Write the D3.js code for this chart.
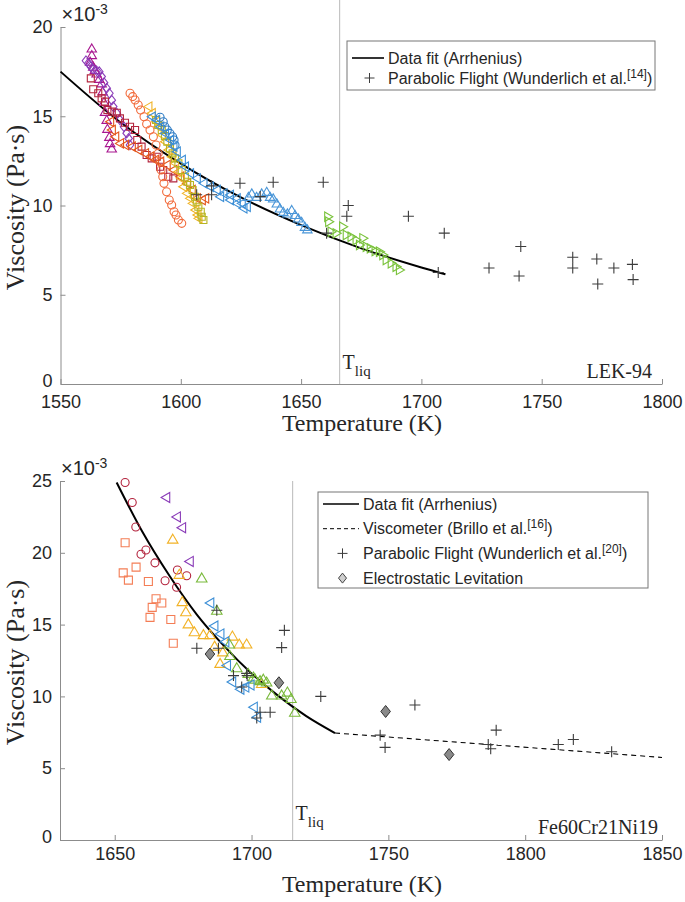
<!DOCTYPE html>
<html>
<head>
<meta charset="utf-8">
<script src="https://cdn.jsdelivr.net/npm/d3@7"></script>
<style>
  body { margin: 0; background: #fff; }
  svg text { font-family: "Liberation Sans", Arial, sans-serif; fill: #262626; }
  svg text.serif { font-family: "Liberation Serif", "Times New Roman", serif; }
</style>
</head>
<body>
<div id="chart"></div>
<script>
const width = 685, height = 902;

// ---------- LEK-94 (top panel) ----------
const lekTicksX = [1550, 1600, 1650, 1700, 1750, 1800];
const lekTicksY = [0, 5, 10, 15, 20];
const lekTliq = 1666;

const lekFit = [[1550,17.5],[1575,14.65],[1600,12.35],[1625,10.45],[1650,8.9],[1675,7.6],[1700,6.53],[1710,6.15]];

const lekFlight = [[1606.6,10.6],[1612.8,11.1],[1612.8,10.6],[1624.6,11.25],[1633,10.5],[1638.4,11.3],
  [1659.2,11.3],[1660.6,8.45],[1669.6,10.0],[1669,9.4],[1694.6,9.4],[1709.5,8.45],[1707,6.25],
  [1728.1,6.5],[1741.3,7.7],[1740.6,6.05],[1762.9,7.1],[1762.9,6.5],[1772.9,7.0],[1773.3,5.6],
  [1780,6.5],[1787.7,6.7],[1788,5.85]];

const lekMagenta = [[1563.0,18.8],[1563.0,18.43],[1562.3,18.06],[1563.6,17.78],[1564.3,17.6],[1565.0,17.4],
  [1566.1,17.1],[1567.1,16.85],[1567.5,16.4],[1568.1,15.8],[1568.5,15.25],[1569.2,14.8],[1569.5,14.3],
  [1570.3,13.85],[1570.6,13.5],[1571.3,13.2]];
const lekPurple = [[1560.6,18.11],[1561.6,17.97],[1562.6,17.78],[1563.6,17.63],[1565.0,17.55],[1566.1,17.5],
  [1567.1,17.22],[1568.1,16.88],[1569.2,16.57],[1570.3,16.29],[1571.3,15.9],[1571.9,15.54],[1573.4,15.17],
  [1574.7,14.8],[1576.4,14.41],[1577.5,14.05],[1578.3,13.76],[1578.9,13.39]];
const lekCrimson = [[1562.6,17.12],[1563.6,16.51],[1565.7,16.29],[1567.1,16.0],[1568.5,15.82],[1569.5,15.35],
  [1571.3,15.26],[1573.4,15.2],[1574.7,14.88],[1576.8,14.64],[1578.9,14.41],[1581.0,14.23],[1581.9,13.67],
  [1583.7,13.3],[1585.8,12.83],[1587.9,12.64],[1590.0,12.73],[1591.4,12.17],[1592.7,11.99],[1594.8,11.61],
  [1596.9,11.52]];
const lekVermilion = [[1570.6,14.69],[1571.3,14.23],[1572.7,13.85],[1574.7,13.48],[1576.8,13.39],[1579.6,13.3],
  [1582.3,13.11],[1585.1,12.92],[1587.2,12.73],[1589.3,12.55],[1591.4,12.45],[1594.1,12.27],[1596.9,11.99],
  [1599.7,11.61],[1602.5,11.24],[1604.5,10.87],[1606.6,10.4],[1608.7,10.31],[1610.1,10.4]];
const lekOrange = [[1578.9,16.29],[1580.0,16.1],[1581.0,15.91],[1582.3,15.63],[1583.3,15.35],[1584.7,14.97],
  [1585.8,14.57],[1587.2,14.23],[1588.6,13.85],[1589.7,13.39],[1590.6,12.92],[1591.4,12.45],[1591.8,11.99],
  [1592.5,11.61],[1593.0,11.24],[1594.1,10.77],[1595.2,10.31],[1596.2,10.03],[1597.2,9.65],[1598.0,9.47],
  [1599.0,9.19],[1600.4,9.0]];
const lekGold = [[1586.5,15.54],[1587.9,15.17],[1589.7,14.69],[1590.6,14.41],[1592.1,13.95],[1593.4,13.57],
  [1594.8,13.11],[1596.2,12.73],[1597.6,12.36],[1599.0,11.89],[1600.0,11.52],[1601.0,11.05],[1602.5,10.68],
  [1603.8,10.4],[1604.9,10.12],[1606.0,9.75],[1606.9,9.47],[1607.3,9.28]];
const lekOlive = [[1589.7,14.79],[1590.6,14.51],[1592.1,14.23],[1593.4,13.89],[1594.4,13.57],[1595.5,13.2],
  [1596.6,12.92],[1597.6,12.64],[1599.0,12.36],[1600.4,11.99],[1601.7,11.61],[1602.7,11.33],[1603.8,11.15],
  [1604.9,10.87],[1605.9,10.49],[1606.6,10.21],[1607.3,9.93],[1608.3,9.65],[1608.7,9.37],[1609.4,9.19]];
const lekBlueCircle = [[1591.4,14.94],[1592.7,14.69],[1593.4,14.41],[1594.4,14.23],[1595.5,14.04],
  [1596.6,13.85],[1597.2,13.67],[1597.6,13.39]];
const lekBlueLeft = [[1587.9,14.97],[1589.7,14.79],[1591.4,14.41],[1593.4,14.04],[1595.5,13.67],[1596.9,13.3],
  [1598.3,13.01],[1600.4,12.55],[1601.7,12.17],[1603.8,11.8],[1606.6,11.52],[1609.4,11.24],[1612.1,11.05],
  [1614.9,10.87],[1616.3,10.49],[1617.7,10.68],[1620.4,10.59],[1620.4,10.31],[1623.2,10.4],[1623.2,10.12],
  [1625.3,10.12],[1626.0,9.84],[1627.4,9.93]];
const lekBlueUp = [[1628.1,10.49],[1629.5,10.68],[1631.5,10.49],[1633.6,10.68],[1635.7,10.77],[1637.1,10.49],
  [1638.4,10.4],[1639.9,10.12],[1641.2,9.84],[1642.6,9.65],[1644.3,9.56],[1646.1,9.75],[1647.5,9.47],
  [1648.8,9.28],[1650.2,9.09],[1651.6,8.81],[1652.6,8.67]];
const lekGreen = [[1661.3,9.37],[1661.7,9.09],[1662.7,8.53],[1664.8,8.44],[1667.5,8.81],[1669.0,8.35],
  [1671.0,8.25],[1673.1,8.07],[1675.9,8.16],[1674.5,7.79],[1677.3,7.69],[1679.0,7.6],[1681.0,7.45],
  [1682.8,7.41],[1684.2,7.23],[1685.6,6.95],[1687.7,6.76],[1689.7,6.57],[1691.1,6.39]];

// ---------- Fe60Cr21Ni19 (bottom panel) ----------
const feTicksX = [1650, 1700, 1750, 1800, 1850];
const feTicksY = [0, 5, 10, 15, 20, 25];
const feTliq = 1715;

const feFit = [[1650.7,24.9],[1660,21.5],[1670,18.4],[1680,15.7],[1690,13.5],[1700,11.6],[1710,10.0],[1720,8.63],[1730.5,7.45]];
const feViscometer = [[1730.5,7.45],[1790,6.6],[1850,5.75]];

const feFlight = [[1680,13.35],[1687.3,16.0],[1687.9,13.35],[1693.4,11.45],[1698.2,11.6],[1696.4,10.65],
  [1698.4,11.45],[1712,14.6],[1711,13.4],[1703.1,8.9],[1706.8,8.9],[1701.9,8.5],[1725.3,10.0],
  [1747,7.3],[1748.8,6.45],[1759.7,9.4],[1789.4,7.65],[1786.5,6.65],[1787.4,6.35],[1812.1,6.65],
  [1817.6,7.0],[1831.6,6.15]];
const feESL = [[1684.8,12.95],[1710,10.95],[1749,8.95],[1772.2,5.95]];

const feCrimson = [[1653.8,24.9],[1656.4,23.5],[1657.7,21.8],[1661.4,20.2],[1659.6,19.9],[1664.7,19.3],
  [1672.9,18.8],[1676.3,18.4],[1668.4,18.05],[1672.6,17.6]];
const feSalmon = [[1653.8,20.7],[1657.8,19.0],[1653.1,18.6],[1655,18.1],[1662.3,18.0],[1665.1,16.8],
  [1667.2,16.5],[1663.7,16.2],[1662.9,15.5],[1670.5,15.35],[1671.4,13.7]];
const fePurple = [[1668.7,23.85],[1672.6,22.5],[1674.5,21.75],[1677.3,19.4]];
const feGold = [[1671.2,20.95],[1673.6,18.5],[1674.7,16.6],[1676,15.9],[1676.9,15.05],[1679.1,14.5],
  [1682.4,14.3],[1684.8,14.3],[1689.5,13.1],[1686.5,13.5],[1693,14.2],[1695.5,13.65],[1698.2,13.65],
  [1703.7,10.9],[1688.5,12.3]];
const feGreen = [[1681.8,18.25],[1687.3,16.0],[1691.9,13.65],[1692.1,12.85],[1694.6,12.0],[1698.8,11.6],
  [1700.7,11.35],[1703.1,11.1],[1705.5,11.0],[1701.3,11.2],[1704.3,11.2],[1707.4,10.1],[1711,10.1],
  [1713.1,10.3],[1714.4,9.85],[1715.8,8.9]];
const feBlue = [[1684.8,16.5],[1686.3,14.9],[1688.5,14.35],[1690.3,13.8],[1690.9,12.15],[1692.8,11.0],
  [1695.8,10.5],[1697.6,10.65],[1699.5,10.8],[1700.7,9.25],[1701.9,8.55]];

// ---------- marker shapes ----------
const shapes = {
  circle: r => d3.symbol(d3.symbolCircle, Math.PI * r * r)(),
  square: r => `M${-r},${-r}H${r}V${r}H${-r}Z`,
  diamond: r => `M0,${-r * 1.25}L${r},0L0,${r * 1.25}L${-r},0Z`,
  up: r => `M0,${-r}L${r * 1.05},${r * 0.8}L${-r * 1.05},${r * 0.8}Z`,
  left: r => `M${-r},0L${r * 0.8},${-r * 1.05}L${r * 0.8},${r * 1.05}Z`,
  right: r => `M${r},0L${-r * 0.8},${-r * 1.05}L${-r * 0.8},${r * 1.05}Z`,
  plus: r => `M${-r},0H${r}M0,${-r}V${r}`
};

const svg = d3.select("#chart").append("svg")
  .attr("width", width)
  .attr("height", height);

function drawPanel(cfg) {
  const x = d3.scaleLinear().domain(cfg.xDomain).range(cfg.xRange);
  const y = d3.scaleLinear().domain(cfg.yDomain).range(cfg.yRange);
  const g = svg.append("g");

  // liquidus line (behind data)
  g.append("line")
    .attr("x1", x(cfg.tliq)).attr("x2", x(cfg.tliq))
    .attr("y1", y(0)).attr("y2", cfg.tliqTop)
    .attr("stroke", "#c4c4c4").attr("stroke-width", 1.2);

  // axes, ticks pointing inward like matlab
  const xAxis = g.append("g")
    .attr("transform", `translate(0,${cfg.yRange[0]})`)
    .call(d3.axisBottom(x).tickValues(cfg.ticksX).tickFormat(d3.format("d"))
      .tickSizeInner(-5).tickSizeOuter(0).tickPadding(cfg.xPad));
  const yAxis = g.append("g")
    .attr("transform", `translate(${cfg.xRange[0]},0)`)
    .call(d3.axisLeft(y).tickValues(cfg.ticksY)
      .tickSizeInner(-5).tickSizeOuter(0).tickPadding(8));
  [xAxis, yAxis].forEach(a => {
    a.selectAll("path, line").attr("stroke", "#8c8c8c");
    a.selectAll("text").attr("font-size", 18).attr("fill", "#262626")
      .style("font-family", '"Liberation Sans", Arial, sans-serif');
  });
  // the "0" sits right on the corner, lift it a little so it clears the first x label
  yAxis.selectAll(".tick text").filter(d => d === 0).attr("dy", "0.12em");

  // exponent label
  const ex = g.append("text").attr("x", cfg.xRange[0] + 1).attr("y", cfg.yRange[1] - 6).attr("font-size", 20);
  ex.append("tspan").text("\u00d710");
  ex.append("tspan").attr("dy", -7).attr("font-size", 14).text("-3");

  // fit curve
  const line = d3.line().x(d => x(d[0])).y(d => y(d[1])).curve(d3.curveMonotoneX);
  g.append("path").datum(cfg.fit).attr("d", line)
    .attr("fill", "none").attr("stroke", "#000").attr("stroke-width", 2);
  if (cfg.dashed) {
    g.append("path").datum(cfg.dashed).attr("d", line)
      .attr("fill", "none").attr("stroke", "#000").attr("stroke-width", 1.1)
      .attr("stroke-dasharray", "5,4");
  }

  // coloured measurement series
  cfg.sets.forEach(s => {
    g.append("g").selectAll("path").data(s.pts).join("path")
      .attr("transform", d => `translate(${x(d[0])},${y(d[1])})`)
      .attr("d", shapes[s.shape](s.r))
      .attr("fill", "none").attr("stroke", s.color).attr("stroke-width", 1.1);
  });

  // parabolic flight
  g.append("g").selectAll("path").data(cfg.flight).join("path")
    .attr("transform", d => `translate(${x(d[0])},${y(d[1])})`)
    .attr("d", shapes.plus(5.5))
    .attr("stroke", "#3c3c3c").attr("stroke-width", 1.1);

  if (cfg.esl) {
    g.append("g").selectAll("path").data(cfg.esl).join("path")
      .attr("transform", d => `translate(${x(d[0])},${y(d[1])})`)
      .attr("d", shapes.diamond(4.8))
      .attr("fill", "#8a8a8a").attr("stroke", "#333").attr("stroke-width", 1);
  }

  // T_liq label
  const tl = g.append("text").attr("class", "serif")
    .attr("x", x(cfg.tliq) + 3).attr("y", cfg.tliqY).attr("font-size", 20);
  tl.append("tspan").text("T");
  tl.append("tspan").attr("dy", 7).attr("font-size", 15).text("liq");

  // alloy name
  g.append("text").attr("class", "serif")
    .attr("x", cfg.nameX).attr("y", cfg.yRange[0] - 6)
    .attr("text-anchor", "end").attr("font-size", 20).text(cfg.name);

  // axis titles
  g.append("text").attr("class", "serif")
    .attr("x", 362).attr("y", cfg.yRange[0] + cfg.xLabelGap)
    .attr("text-anchor", "middle").attr("font-size", 24).text("Temperature (K)");
  g.append("text").attr("class", "serif")
    .attr("transform", `translate(24,${(cfg.yRange[0] + cfg.yRange[1]) / 2 + 2}) rotate(-90)`)
    .attr("text-anchor", "middle").attr("font-size", 26).text("Viscosity (Pa\u00b7s)");

  // legend
  const L = cfg.legend;
  const lg = g.append("g");
  lg.append("rect").attr("x", L.x).attr("y", L.y).attr("width", L.w).attr("height", L.h)
    .attr("fill", "#fff").attr("stroke", "#777").attr("stroke-width", 1);
  L.items.forEach((it, i) => {
    const cy = L.y + L.first + i * L.step;
    const mx = L.x + L.tx / 2 + 2;
    if (it.kind === "line" || it.kind === "dash") {
      lg.append("line").attr("x1", L.x + 5).attr("x2", L.x + L.tx - 4).attr("y1", cy).attr("y2", cy)
        .attr("stroke", "#000").attr("stroke-width", it.kind === "line" ? 1.6 : 1)
        .attr("stroke-dasharray", it.kind === "dash" ? "4,3" : null);
    } else if (it.kind === "plus") {
      lg.append("path").attr("transform", `translate(${mx},${cy})`).attr("d", shapes.plus(5))
        .attr("stroke", "#3c3c3c").attr("stroke-width", 1);
    } else if (it.kind === "diamond") {
      lg.append("path").attr("transform", `translate(${mx},${cy})`).attr("d", shapes.diamond(4))
        .attr("fill", "#cfcfcf").attr("stroke", "#444").attr("stroke-width", 1);
    }
    const t = lg.append("text").attr("x", L.x + L.tx).attr("y", cy + 5.5).attr("font-size", 16);
    t.append("tspan").text(it.text);
    if (it.sup) {
      t.append("tspan").attr("dy", -6).attr("font-size", 12).text(it.sup);
      t.append("tspan").attr("dy", 6).text(")");
    }
  });
}

drawPanel({
  xDomain: [1550, 1800], xRange: [60.5, 662],
  yDomain: [0, 20], yRange: [384, 27],
  ticksX: lekTicksX, ticksY: lekTicksY, xPad: 11, xLabelGap: 47,
  tliq: lekTliq, tliqTop: 0, tliqY: 369,
  fit: lekFit, flight: lekFlight,
  name: "LEK-94", nameX: 652,
  sets: [
    {pts: lekMagenta, shape: "up", color: "#a8168f", r: 4.5},
    {pts: lekPurple, shape: "diamond", color: "#8a3cb8", r: 3.8},
    {pts: lekCrimson, shape: "square", color: "#b3253d", r: 3.5},
    {pts: lekVermilion, shape: "left", color: "#e4571e", r: 4.5},
    {pts: lekOrange, shape: "circle", color: "#f26a3a", r: 4},
    {pts: lekGold, shape: "left", color: "#f0b225", r: 4.5},
    {pts: lekOlive, shape: "square", color: "#b8b522", r: 3.5},
    {pts: lekBlueCircle, shape: "circle", color: "#2f7cc4", r: 4},
    {pts: lekBlueLeft, shape: "left", color: "#3d8fd6", r: 4.5},
    {pts: lekBlueUp, shape: "up", color: "#4a96d8", r: 4.5},
    {pts: lekGreen, shape: "right", color: "#79c23a", r: 4.5}
  ],
  legend: {x: 347, y: 41, w: 308, h: 49, first: 17, step: 20, tx: 41, items: [
    {kind: "line", text: "Data fit (Arrhenius)"},
    {kind: "plus", text: "Parabolic Flight (Wunderlich et al.", sup: "[14]"}
  ]}
});

drawPanel({
  xDomain: [1630, 1850], xRange: [60, 662],
  yDomain: [0, 25], yRange: [840, 481],
  ticksX: feTicksX, ticksY: feTicksY, xPad: 7, xLabelGap: 52,
  tliq: feTliq, tliqTop: 481, tliqY: 820,
  fit: feFit, dashed: feViscometer, flight: feFlight, esl: feESL,
  name: "Fe60Cr21Ni19", nameX: 658,
  sets: [
    {pts: feSalmon, shape: "square", color: "#f47d55", r: 4},
    {pts: feCrimson, shape: "circle", color: "#b3233d", r: 4},
    {pts: fePurple, shape: "left", color: "#8a3cb8", r: 4.8},
    {pts: feGold, shape: "up", color: "#f2b226", r: 5},
    {pts: feGreen, shape: "up", color: "#79b93a", r: 5},
    {pts: feBlue, shape: "left", color: "#3d8fd6", r: 4.8}
  ],
  legend: {x: 318, y: 492, w: 330, h: 96, first: 12, step: 24.7, tx: 45, items: [
    {kind: "line", text: "Data fit (Arrhenius)"},
    {kind: "dash", text: "Viscometer (Brillo et al.", sup: "[16]"},
    {kind: "plus", text: "Parabolic Flight (Wunderlich et al.", sup: "[20]"},
    {kind: "diamond", text: "Electrostatic Levitation"}
  ]}
});
</script>
</body>
</html>
